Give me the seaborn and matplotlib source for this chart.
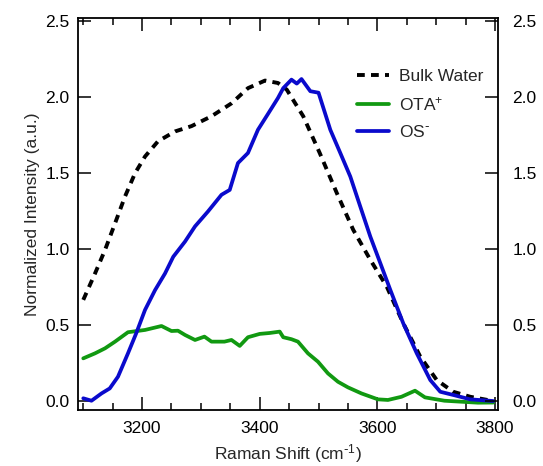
import numpy as np
import pandas as pd
import matplotlib
matplotlib.use("Agg")
import matplotlib.pyplot as plt
import seaborn as sns

# Bulk water (dashed)
bulk_x = [3100, 3120, 3137, 3154, 3171, 3188, 3205, 3227, 3256, 3284, 3318, 3352,
          3380, 3409, 3431, 3446, 3474, 3502, 3531, 3559, 3588, 3616, 3644, 3673,
          3701, 3729, 3758, 3797]
bulk_y = [0.666, 0.84, 0.995, 1.17, 1.347, 1.50, 1.61, 1.71, 1.775, 1.81, 1.875, 1.96,
          2.06, 2.11, 2.094, 2.05, 1.875, 1.633, 1.37, 1.127, 0.93, 0.753, 0.512, 0.292,
          0.138, 0.061, 0.028, 0.0]

# OS- (blue)
os_x = [3100, 3114, 3131, 3145, 3159, 3176, 3190, 3205, 3222, 3239, 3253, 3273, 3290,
        3312, 3335, 3349, 3363, 3380, 3397, 3414, 3431, 3440, 3454, 3463, 3471, 3486,
        3500, 3520, 3537, 3554, 3571, 3588, 3605, 3622, 3644, 3667, 3690, 3707, 3729,
        3758, 3797]
os_y = [0.018, 0.002, 0.05, 0.083, 0.16, 0.314, 0.446, 0.60, 0.73, 0.84, 0.95, 1.05, 1.15,
        1.248, 1.358, 1.39, 1.567, 1.633, 1.786, 1.89, 1.995, 2.06, 2.116, 2.09, 2.12, 2.04,
        2.03, 1.786, 1.633, 1.478, 1.28, 1.083, 0.908, 0.732, 0.512, 0.314, 0.138, 0.061, 0.04,
        0.011, 0.0]

# OTA+ (green)
ota_x = [3100, 3120, 3137, 3154, 3176, 3205, 3233, 3250, 3261, 3273, 3290, 3306, 3318,
         3340, 3352, 3366, 3380, 3400, 3417, 3434, 3440, 3454, 3465, 3482, 3499, 3516,
         3533, 3550, 3573, 3601, 3618, 3641, 3664, 3681, 3714, 3771, 3797]
ota_y = [0.281, 0.314, 0.347, 0.391, 0.453, 0.468, 0.494, 0.461, 0.463, 0.435, 0.402, 0.424,
         0.391, 0.391, 0.402, 0.363, 0.42, 0.442, 0.448, 0.457, 0.42, 0.407, 0.391, 0.314,
         0.259, 0.182, 0.127, 0.09, 0.05, 0.011, 0.007, 0.028, 0.068, 0.024, 0.002, -0.011,
         -0.01]

y_ticks = [0.0, 0.5, 1.0, 1.5, 2.0, 2.5]
y_labels = ['0.0', '0.5', '1.0', '1.5', '2.0', '2.5']

sns.set_style("ticks")
plt.rcParams['font.family'] = ['Liberation Sans', 'DejaVu Sans']
plt.rcParams['mathtext.default'] = 'regular'

fig = plt.figure(figsize=(5.43, 4.66), dpi=100)
ax = fig.add_axes([0.1436, 0.1202, 0.7734, 0.8412])

sns.lineplot(x=bulk_x, y=bulk_y, ax=ax, color='black', lw=2.8, linestyle=(0, (2.0, 1.6)),
             label='Bulk Water')
sns.lineplot(x=ota_x, y=ota_y, ax=ax, color='#119911', lw=2.7, label='OTA$^{+}$')
sns.lineplot(x=os_x, y=os_y, ax=ax, color='#0a0acc', lw=2.7, label='OS$^{\\text{-}}$')

ax.set_xlim(3091, 3805)
ax.set_ylim(-0.059, 2.522)
ax.set_xticks([3200, 3400, 3600, 3800])
ax.set_xticks(np.arange(3100, 3801, 50), minor=True)
ax.set_yticks(y_ticks)
ax.set_yticklabels(y_labels)
for s in ax.spines.values():
    s.set_linewidth(1.3)
    s.set_color('black')

# right-hand axis: ticks and labels with a wider gap
ax2 = ax.twinx()
ax2.set_ylim(ax.get_ylim())
ax2.set_yticks(y_ticks)
ax2.set_yticklabels(y_labels)
ax2.tick_params(direction='in', length=9.5, width=1.1, labelsize=12.5, pad=10.5,
                colors='black')
for s in ax2.spines.values():
    s.set_visible(False)

ax.tick_params(which='both', direction='in', top=True, width=1.1, labelsize=12.5,
               colors='black', pad=6)
ax.tick_params(axis='x', pad=8)
ax.tick_params(which='major', length=9.5)
ax.tick_params(which='minor', length=5)

ax.set_xlabel('Raman Shift (cm$^{\\text{-}1}$)', fontsize=12.5)
ax.set_ylabel('Normalized Intensity (a.u.)', fontsize=12.5)

leg = ax.legend(loc='upper left', bbox_to_anchor=(0.665, 0.87), frameon=False,
                fontsize=12.5, handlelength=1.85, handletextpad=0.55, labelspacing=0.62,
                borderpad=0, borderaxespad=0)

fig.savefig('out.png', dpi=100)
